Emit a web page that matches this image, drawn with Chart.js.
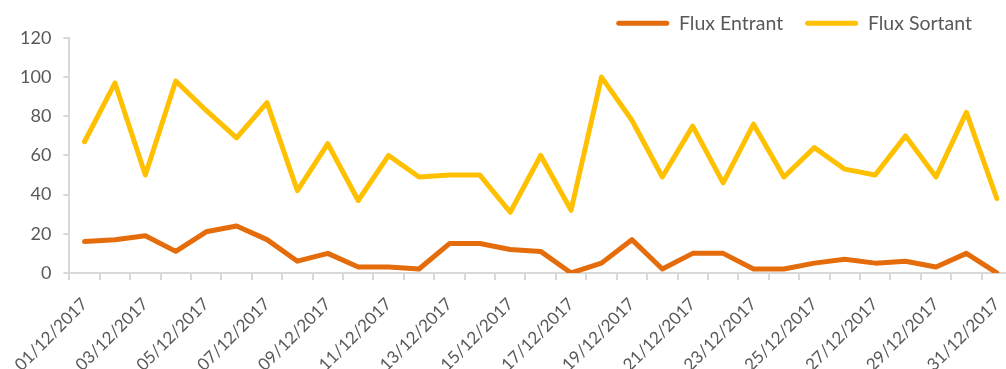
<!DOCTYPE html>
<html>
<head>
<meta charset="utf-8">
<script src="https://cdn.jsdelivr.net/npm/chart.js@4.4.0/dist/chart.umd.min.js"></script>
<style>
  html, body { margin: 0; padding: 0; background: #fff; overflow: hidden; }
  #wrap { width: 1012px; height: 389px; position: relative; }
</style>
</head>
<body>
<div id="wrap"><canvas id="fluxChart"></canvas></div>
<script>
// dates du mois de décembre 2017
const jours = [
  '01/12/2017','02/12/2017','03/12/2017','04/12/2017','05/12/2017','06/12/2017','07/12/2017',
  '08/12/2017','09/12/2017','10/12/2017','11/12/2017','12/12/2017','13/12/2017','14/12/2017',
  '15/12/2017','16/12/2017','17/12/2017','18/12/2017','19/12/2017','20/12/2017','21/12/2017',
  '22/12/2017','23/12/2017','24/12/2017','25/12/2017','26/12/2017','27/12/2017','28/12/2017',
  '29/12/2017','30/12/2017','31/12/2017'
];

const fluxEntrant = [16, 17, 19, 11, 21, 24, 17, 6, 10, 3, 3, 2, 15, 15, 12, 11, 0, 5, 17, 2, 10, 10, 2, 2, 5, 7, 5, 6, 3, 10, 0];
const fluxSortant = [67, 97, 50, 98, 83, 69, 87, 42, 66, 37, 60, 49, 50, 50, 31, 60, 32, 100, 78, 49, 75, 46, 76, 49, 64, 53, 50, 70, 49, 82, 38];

const yTicks = [0, 20, 40, 60, 80, 100, 120];

const ORANGE = '#E46C0A';
const JAUNE  = '#FFC000';
const GRIS   = '#595959';
const AXE    = '#D9D9D9';

Chart.defaults.font.family = 'Lato, "Open Sans", sans-serif';
Chart.defaults.color = GRIS;

// recale la légende (le canvas déborde un peu à droite de la fenêtre)
const legendShift = {
  id: 'legendShift',
  afterLayout(chart) {
    chart.legend.left -= 18;
    chart.legend.right -= 18;
    chart.legend.top += 5;
  }
};

new Chart(document.getElementById('fluxChart'), {
  type: 'line',
  data: {
    labels: jours,
    datasets: [
      { label: 'Flux Entrant', data: fluxEntrant, borderColor: ORANGE, backgroundColor: ORANGE,
        borderWidth: 5, pointRadius: 0, tension: 0, borderJoinStyle: 'round', borderCapStyle: 'round' },
      { label: 'Flux Sortant', data: fluxSortant, borderColor: JAUNE, backgroundColor: JAUNE,
        borderWidth: 5, pointRadius: 0, tension: 0, borderJoinStyle: 'round', borderCapStyle: 'round' }
    ]
  },
  plugins: [legendShift],
  options: {
    responsive: true,
    maintainAspectRatio: false,
    animation: false,
    layout: { padding: { left: 8, right: 0, top: -13.5, bottom: 0 } },
    plugins: {
      tooltip: { enabled: false },
      legend: {
        position: 'top',
        align: 'end',
        labels: {
          boxWidth: 53,
          boxHeight: 5,
          padding: 22,
          useBorderRadius: true,
          borderRadius: 2.5,
          font: { size: 19.5 },
          color: GRIS,
          generateLabels: (chart) => chart.data.datasets.map((ds, i) => ({
            text: ds.label,
            fillStyle: ds.borderColor,
            strokeStyle: ds.borderColor,
            lineWidth: 0,
            fontColor: GRIS,
            datasetIndex: i,
            borderRadius: 2.5
          }))
        }
      }
    },
    scales: {
      x: {
        offset: true,
        // les dates inclinées peuvent déborder à gauche, on ne réserve pas de marge pour elles
        afterFit: (scale) => { scale.paddingLeft = 0; scale.paddingRight = 0; },
        border: { color: AXE, width: 2 },
        grid: { display: true, drawOnChartArea: false, offset: true, color: AXE, lineWidth: 2, tickLength: 7 },
        ticks: {
          autoSkip: false,
          maxRotation: 45,
          minRotation: 45,
          padding: 14,
          font: { size: 17 },
          color: GRIS,
          callback: function (v, i) { return i % 2 === 0 ? this.getLabelForValue(v) : ''; }
        }
      },
      y: {
        min: 0,
        max: 120,
        afterBuildTicks: (axis) => { axis.ticks = yTicks.map(v => ({ value: v })); },
        border: { color: AXE, width: 2 },
        grid: { display: true, drawOnChartArea: false, color: AXE, lineWidth: 2, tickLength: 6 },
        ticks: { padding: 12, font: { size: 18 }, color: GRIS }
      }
    }
  }
});
</script>
</body>
</html>
